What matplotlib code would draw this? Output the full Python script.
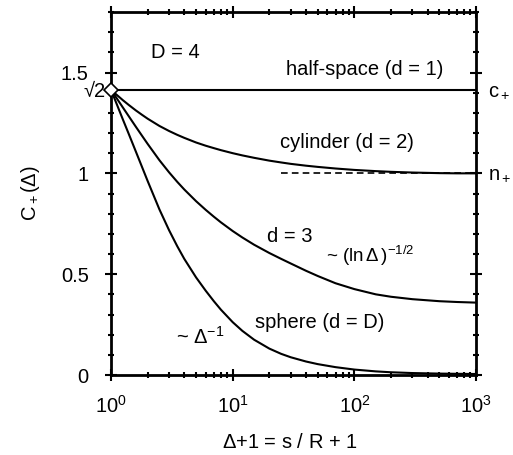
import numpy as np
import matplotlib
matplotlib.use("Agg")
import matplotlib.pyplot as plt
from matplotlib.ticker import LogLocator, MultipleLocator, NullFormatter

plt.rcParams['font.family'] = ['Liberation Sans', 'DejaVu Sans']
plt.rcParams['mathtext.fontset'] = 'custom'
plt.rcParams['mathtext.rm'] = 'Liberation Sans'
plt.rcParams['mathtext.it'] = 'Liberation Sans:italic'
plt.rcParams['mathtext.default'] = 'regular'

FONT_SIZE = 14.5

# values
x_vals = [1, 1.12, 1.25, 1.4, 1.6, 1.8, 2, 2.5, 3, 3.5, 4, 5, 6, 7, 8, 10, 12, 15, 20, 25,
          30, 40, 50, 70, 100, 150, 200, 300, 500, 700, 1000]
half_space = [1.414] * len(x_vals)
cylinder = [1.414, 1.388, 1.363, 1.339, 1.312, 1.290, 1.271, 1.235, 1.210, 1.191, 1.176,
            1.153, 1.137, 1.125, 1.115, 1.100, 1.089, 1.077, 1.063, 1.054, 1.047, 1.038,
            1.032, 1.024, 1.017, 1.011, 1.0075, 1.004, 1.001, 1.0, 1.0]
d_three = [1.414, 1.370, 1.327, 1.283, 1.231, 1.186, 1.146, 1.065, 1.005, 0.958, 0.920,
           0.862, 0.819, 0.785, 0.757, 0.714, 0.682, 0.646, 0.605, 0.576, 0.553, 0.517,
           0.491, 0.455, 0.426, 0.400, 0.388, 0.376, 0.366, 0.362, 0.359]
sphere = [1.414, 1.340, 1.268, 1.195, 1.108, 1.031, 0.962, 0.821, 0.718, 0.639, 0.576,
          0.484, 0.418, 0.366, 0.324, 0.262, 0.219, 0.175, 0.131, 0.105, 0.088, 0.067,
          0.054, 0.039, 0.027, 0.018, 0.0136, 0.0097, 0.007, 0.006, 0.005]
n_plus_x = [25, 1000]
n_plus = [1.0, 1.0]

fig = plt.figure(figsize=(5.13, 4.55), dpi=100)
ax = fig.add_axes([0.2164, 0.1758, 0.7116, 0.7978])

for ys in (half_space, cylinder, d_three, sphere):
    ax.plot(x_vals, ys, color='k', linewidth=1.5, solid_joinstyle='round')
ax.plot(n_plus_x, n_plus, color='k', linewidth=1.2, linestyle=(0, (4, 2.5)))
ax.plot([1], [np.sqrt(2)], marker='D', markersize=7, markerfacecolor='white',
        markeredgecolor='k', markeredgewidth=1.2, clip_on=False, zorder=5)

ax.set_xscale('log')
ax.set_xlim(1, 1000)
ax.set_ylim(0, 1.8)
ax.set_yticks([0, 0.5, 1, 1.5])
ax.set_yticklabels(['0', '0.5', '1', '1.5'])
ax.yaxis.set_minor_locator(MultipleLocator(0.1))
ax.xaxis.set_major_locator(LogLocator(base=10, numticks=10))
ax.xaxis.set_minor_locator(LogLocator(base=10, subs=np.arange(2, 10), numticks=20))
ax.xaxis.set_minor_formatter(NullFormatter())

for s in ax.spines.values():
    s.set_linewidth(2)
ax.tick_params(which='both', direction='inout', top=True, right=True, width=1.5,
               labelsize=FONT_SIZE)
ax.tick_params(which='major', length=8)
ax.tick_params(which='minor', length=5)
ax.tick_params(axis='y', which='major', pad=12)
ax.tick_params(axis='x', which='major', pad=10)

ax.text(0.91, 1.405, '\u221a2', ha='right', va='center', fontsize=FONT_SIZE)
ax.text(1250, 1.405, r'c$_+$', ha='left', va='center', fontsize=FONT_SIZE)
ax.text(1250, 0.995, r'n$_+$', ha='left', va='center', fontsize=FONT_SIZE)

ax.text(3.36, 1.60, 'D = 4', ha='center', va='center', fontsize=FONT_SIZE)
ax.text(122, 1.515, 'half-space (d = 1)', ha='center', va='center', fontsize=FONT_SIZE)
ax.text(87, 1.153, 'cylinder (d = 2)', ha='center', va='center', fontsize=FONT_SIZE)
ax.text(29.6, 0.688, 'd = 3', ha='center', va='center', fontsize=FONT_SIZE)
ax.text(134, 0.589, r'~ (ln$\,\Delta\,$)$^{-1/2}$', ha='center', va='center',
        fontsize=FONT_SIZE - 1)
ax.text(52, 0.262, 'sphere (d = D)', ha='center', va='center', fontsize=FONT_SIZE)
ax.text(5.4, 0.188, r'~ $\Delta^{-1}$', ha='center', va='center', fontsize=FONT_SIZE)

ax.set_ylabel(r'C$_+$($\Delta$)', fontsize=FONT_SIZE)
ax.yaxis.set_label_coords(-0.19, 0.5)
ax.set_xlabel(r'$\Delta$+1 = s / R + 1', fontsize=FONT_SIZE)
ax.xaxis.set_label_coords(0.49, -0.16)

fig.savefig('out.png', dpi=100)
